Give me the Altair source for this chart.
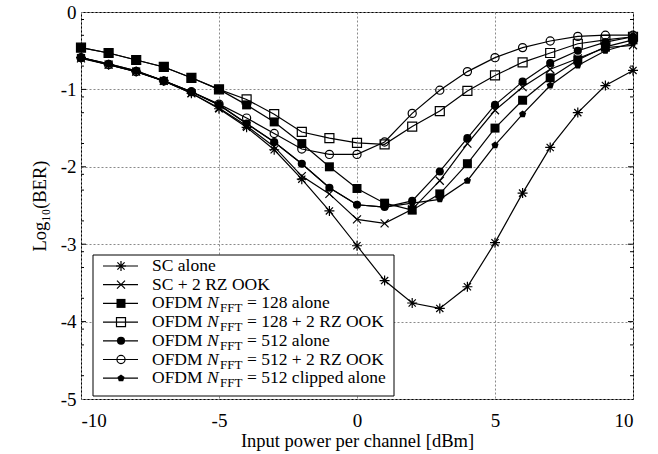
import altair as alt
import pandas as pd

# ---------------- data ----------------
x_vals = list(range(-10, 11))

sc_alone = [-0.59, -0.68, -0.77, -0.89, -1.05, -1.25, -1.49, -1.78, -2.16, -2.57, -3.02,
            -3.47, -3.76, -3.83, -3.55, -2.98, -2.34, -1.75, -1.30, -0.95, -0.755]
sc_ook = [-0.60, -0.68, -0.77, -0.89, -1.05, -1.24, -1.47, -1.74, -2.12, -2.35, -2.68,
          -2.73, -2.55, -2.18, -1.70, -1.27, -0.97, -0.74, -0.60, -0.46, -0.43]
ofdm128 = [-0.46, -0.53, -0.62, -0.71, -0.85, -1.00, -1.20, -1.42, -1.70, -2.00, -2.28,
           -2.47, -2.56, -2.35, -1.96, -1.50, -1.14, -0.85, -0.62, -0.45, -0.36]
ofdm128_ook = [-0.46, -0.53, -0.62, -0.71, -0.85, -1.00, -1.13, -1.32, -1.55, -1.63, -1.69,
               -1.71, -1.48, -1.28, -1.02, -0.82, -0.65, -0.53, -0.41, -0.36, -0.32]
ofdm512 = [-0.59, -0.67, -0.76, -0.89, -1.03, -1.20, -1.44, -1.68, -1.96, -2.27, -2.49,
           -2.52, -2.44, -2.06, -1.63, -1.20, -0.90, -0.66, -0.50, -0.39, -0.32]
ofdm512_ook = [-0.59, -0.68, -0.77, -0.89, -1.03, -1.19, -1.37, -1.57, -1.77, -1.84, -1.84,
               -1.68, -1.31, -1.01, -0.77, -0.59, -0.46, -0.375, -0.315, -0.30, -0.30]
ofdm512_clip = [-0.59, -0.67, -0.76, -0.89, -1.03, -1.20, -1.44, -1.68, -1.96, -2.27, -2.49,
                -2.52, -2.47, -2.42, -2.18, -1.72, -1.32, -0.95, -0.69, -0.50, -0.40]

series_keys = ["sc", "sc_ook", "o128", "o128_ook", "o512", "o512_ook", "o512_clip"]
series_values = [sc_alone, sc_ook, ofdm128, ofdm128_ook, ofdm512, ofdm512_ook, ofdm512_clip]

# legend label pieces: (prefix, has N_FFT, suffix)
legend_labels = [
    ("SC alone", False, ""),
    ("SC + 2 RZ OOK", False, ""),
    ("OFDM", True, "= 128 alone"),
    ("OFDM", True, "= 128 + 2 RZ OOK"),
    ("OFDM", True, "= 512 alone"),
    ("OFDM", True, "= 512 + 2 RZ OOK"),
    ("OFDM", True, "= 512 clipped alone"),
]

y_major = [0, -1, -2, -3, -4, -5]
x_major = [-10, -5, 0, 5, 10]
minor_ticks = [-0.097, -0.301, -0.699, -1.097, -1.301, -1.699, -2.097, -2.301, -2.699,
               -3.097, -3.301, -3.699, -4.097, -4.301, -4.699]
major_ticks = [-1, -2, -3, -4]

# ---------------- styles ----------------
STAR = "M-1,0L1,0M0,-1L0,1M-0.72,-0.72L0.72,0.72M-0.72,0.72L0.72,-0.72"
XCROSS = "M-0.8,-0.8L0.8,0.8M-0.8,0.8L0.8,-0.8"
PENT = "M0,-1L0.951,-0.309L0.588,0.809L-0.588,0.809L-0.951,-0.309Z"
marker_style = {
    "sc": dict(shape=STAR, filled=False, size=100),
    "sc_ook": dict(shape=XCROSS, filled=False, size=100),
    "o128": dict(shape="square", filled=True, size=81),
    "o128_ook": dict(shape="square", filled=False, size=81),
    "o512": dict(shape="circle", filled=True, size=66),
    "o512_ook": dict(shape="circle", filled=False, size=66),
    "o512_clip": dict(shape=PENT, filled=True, size=56),
}

FONT = "Liberation Serif"
W, H = 552, 387

rows = []
for key, vals in zip(series_keys, series_values):
    for xv, yv in zip(x_vals, vals):
        rows.append({"series": key, "x": xv, "y": yv})
df = pd.DataFrame(rows)

xs = alt.Scale(domain=[-10, 10], nice=False, zero=False)
ys = alt.Scale(domain=[-5, 0], nice=False, zero=False)

axis_common = dict(
    grid=True, gridDash=[2, 2], gridColor="#8a8a8a", gridWidth=1,
    ticks=False, domain=False,
    labelFont=FONT, labelFontSize=19, labelColor="black",
    titleFont=FONT, titleFontSize=18.5, titleFontWeight="normal", titleColor="black",
    labelExpr="'' + datum.value",
)

x_axis = alt.Axis(values=x_major, title="Input power per channel [dBm]",
                  labelPadding=12, titlePadding=1, **axis_common)
y_axis = alt.Axis(values=y_major, title="Log\u2081\u2080(BER)",
                  labelPadding=5, titlePadding=11, **axis_common)

XE = alt.X("x:Q", scale=xs, axis=x_axis)
YE = alt.Y("y:Q", scale=ys, axis=y_axis)

one = pd.DataFrame({"a": [0]})

layers = []

# legend box (beneath the data)
layers.append(
    alt.Chart(one).mark_rect(fill="white", stroke="black", strokeWidth=1).encode(
        x=alt.value(12), x2=alt.value(313), y=alt.value(243), y2=alt.value(384)
    )
)

# lines
layers.append(
    alt.Chart(df).mark_line(color="black", strokeWidth=1.2).encode(
        x=XE, y=YE, detail="series:N",
    )
)

# markers
for key in series_keys:
    st = marker_style[key]
    layers.append(
        alt.Chart(df[df.series == key]).mark_point(
            shape=st["shape"], filled=st["filled"], size=st["size"],
            color="black", strokeWidth=1.2, opacity=1
        ).encode(x=XE, y=YE)
    )

# inward ticks on left and right
tick_df = pd.DataFrame({"y": minor_ticks})
maj_df = pd.DataFrame({"y": major_ticks})
for tdf, ln in ((tick_df, 3), (maj_df, 5)):
    layers.append(alt.Chart(tdf).mark_rule(color="black", strokeWidth=1).encode(
        y=YE, x=alt.value(0), x2=alt.value(ln)))
    layers.append(alt.Chart(tdf).mark_rule(color="black", strokeWidth=1).encode(
        y=YE, x=alt.value(W - ln), x2=alt.value(W)))

# legend entries
row0, dy = 254, 18.7
LFS = 17.5
for i, (key, (prefix, has_n, suffix)) in enumerate(zip(series_keys, legend_labels)):
    yr = row0 + i * dy
    st = marker_style[key]
    layers.append(alt.Chart(one).mark_rule(color="black", strokeWidth=1.2).encode(
        x=alt.value(22), x2=alt.value(57), y=alt.value(yr)))
    layers.append(alt.Chart(one).mark_point(
        shape=st["shape"], filled=st["filled"], size=st["size"],
        color="black", strokeWidth=1.2, opacity=1
    ).encode(x=alt.value(40), y=alt.value(yr)))
    layers.append(alt.Chart(one).mark_text(
        align="left", baseline="middle", font=FONT, fontSize=LFS, color="black"
    ).encode(x=alt.value(71), y=alt.value(yr), text=alt.value(prefix)))
    if has_n:
        layers.append(alt.Chart(one).mark_text(
            align="left", baseline="middle", font=FONT, fontSize=LFS, fontStyle="italic",
            color="black"
        ).encode(x=alt.value(126), y=alt.value(yr), text=alt.value("N")))
        layers.append(alt.Chart(one).mark_text(
            align="left", baseline="middle", font=FONT, fontSize=13, color="black"
        ).encode(x=alt.value(139), y=alt.value(yr + 5), text=alt.value("FFT")))
        layers.append(alt.Chart(one).mark_text(
            align="left", baseline="middle", font=FONT, fontSize=LFS, color="black"
        ).encode(x=alt.value(166), y=alt.value(yr), text=alt.value(suffix)))

chart = alt.layer(*layers).properties(
    width=W, height=H,
    padding={"left": 81, "top": 12, "right": 25, "bottom": 55},
    autosize=alt.AutoSizeParams(type="none"),
    background="white",
).configure_view(stroke="black", strokeWidth=1)

chart.save("out.html", embed_options={"renderer": "svg", "actions": False})
